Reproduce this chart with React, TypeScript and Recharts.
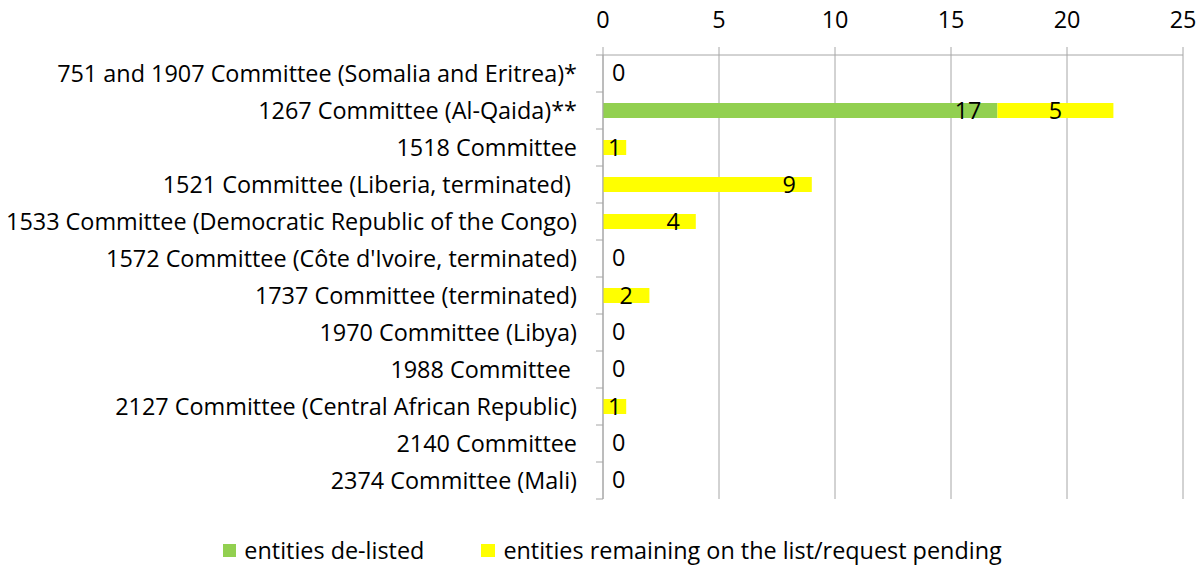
import React from 'react';
import { BarChart, Bar, XAxis, YAxis, CartesianGrid, Legend, LabelList } from 'recharts';

const committees = [
    '751 and 1907 Committee (Somalia and Eritrea)*',
    '1267 Committee (Al-Qaida)**',
    '1518 Committee',
    '1521 Committee (Liberia, terminated)\u00A0',
    '1533 Committee (Democratic Republic of the Congo)',
    "1572 Committee (Côte d'Ivoire, terminated)",
    '1737 Committee (terminated)',
    '1970 Committee (Libya)',
    '1988 Committee\u00A0',
    '2127 Committee (Central African Republic)',
    '2140 Committee',
    '2374 Committee (Mali)',
];
const delisted = [0, 17, 0, 0, 0, 0, 0, 0, 0, 0, 0, 0];
const remaining = [0, 5, 1, 9, 4, 0, 2, 0, 0, 1, 0, 0];
const xTicks = [0, 5, 10, 15, 20, 25];

const data = committees.map((name, i) => ({ name, delisted: delisted[i], remaining: remaining[i] }));

const FONT = '"Open Sans", sans-serif';
const FS = 23.4;
const GRID = '#a6a6a6';
const BAND = 37;

// category label + boundary tick marks; rows with nothing at all get their "0" label here
const YTick = (props: any) => {
    const { x, y, payload, index } = props;
    const total = delisted[index] + remaining[index];
    return (
        <g>
            <text x={x - 26} y={y} dy={8} textAnchor="end" fontSize={FS} fill="#000" fontFamily={FONT}>
                {payload.value}
            </text>
            {index === 0 && <line x1={x - 7} x2={x} y1={y - BAND / 2} y2={y - BAND / 2} stroke={GRID} />}
            <line x1={x - 7} x2={x} y1={y + BAND / 2} y2={y + BAND / 2} stroke={GRID} />
            {total === 0 && (
                <text x={x + 9} y={y} dy={7} fontSize={FS} fill="#000" fontFamily={FONT}>0</text>
            )}
        </g>
    );
};

const barLabel = (props: any) => {
    const { x, y, width, height, value } = props;
    if (!value) return null;
    const cy = y + height / 2 + 8;
    const centered = x > 610 || width < 50;
    const lx = centered ? x + width / 2 : x + width - 16;
    return (
        <text x={lx} y={cy} textAnchor={centered ? 'middle' : 'end'} fontSize={FS} fill="#000" fontFamily={FONT}>
            {value}
        </text>
    );
};

const LegendContent = () => (
    <div style={{ display: 'flex', justifyContent: 'center', fontFamily: FONT, fontSize: FS, color: '#000', gap: 57, lineHeight: '30px', paddingLeft: 42 }}>
        <div style={{ display: 'flex', alignItems: 'center' }}>
            <span style={{ width: 13, height: 13, background: '#92d050', display: 'inline-block', marginRight: 8 }} />
            entities de-listed
        </div>
        <div style={{ display: 'flex', alignItems: 'center' }}>
            <span style={{ width: 14, height: 13, background: '#ffff00', display: 'inline-block', marginRight: 8 }} />
            entities remaining on the list/request pending
        </div>
    </div>
);

export default function App() {
    return (
        <div style={{ position: 'absolute', left: 0, top: 0, background: '#fff' }}>
            <BarChart
                width={1202}
                height={567}
                data={data}
                layout="vertical"
                barSize={15}
                margin={{ top: 0, right: 19, left: 0, bottom: 30 }}
            >
                <CartesianGrid horizontal={false} vertical stroke={GRID} />
                <XAxis
                    type="number"
                    orientation="top"
                    domain={[0, 25]}
                    ticks={xTicks}
                    height={55}
                    stroke={GRID}
                    tickSize={8}
                    tick={{ fill: '#000', fontSize: FS, fontFamily: FONT }}
                    tickMargin={19}
                />
                <YAxis
                    type="category"
                    dataKey="name"
                    width={603}
                    stroke={GRID}
                    tickLine={false}
                    tickSize={0}
                    tickMargin={0}
                    tick={<YTick />}
                    interval={0}
                />
                <Legend verticalAlign="bottom" height={38} wrapperStyle={{ top: 535, bottom: 'auto' }} content={<LegendContent />} />
                <Bar dataKey="delisted" name="entities de-listed" stackId="a" fill="#92d050" isAnimationActive={false}>
                    <LabelList dataKey="delisted" content={barLabel} />
                </Bar>
                <Bar dataKey="remaining" name="entities remaining on the list/request pending" stackId="a" fill="#ffff00" isAnimationActive={false}>
                    <LabelList dataKey="remaining" content={barLabel} />
                </Bar>
            </BarChart>
        </div>
    );
}
